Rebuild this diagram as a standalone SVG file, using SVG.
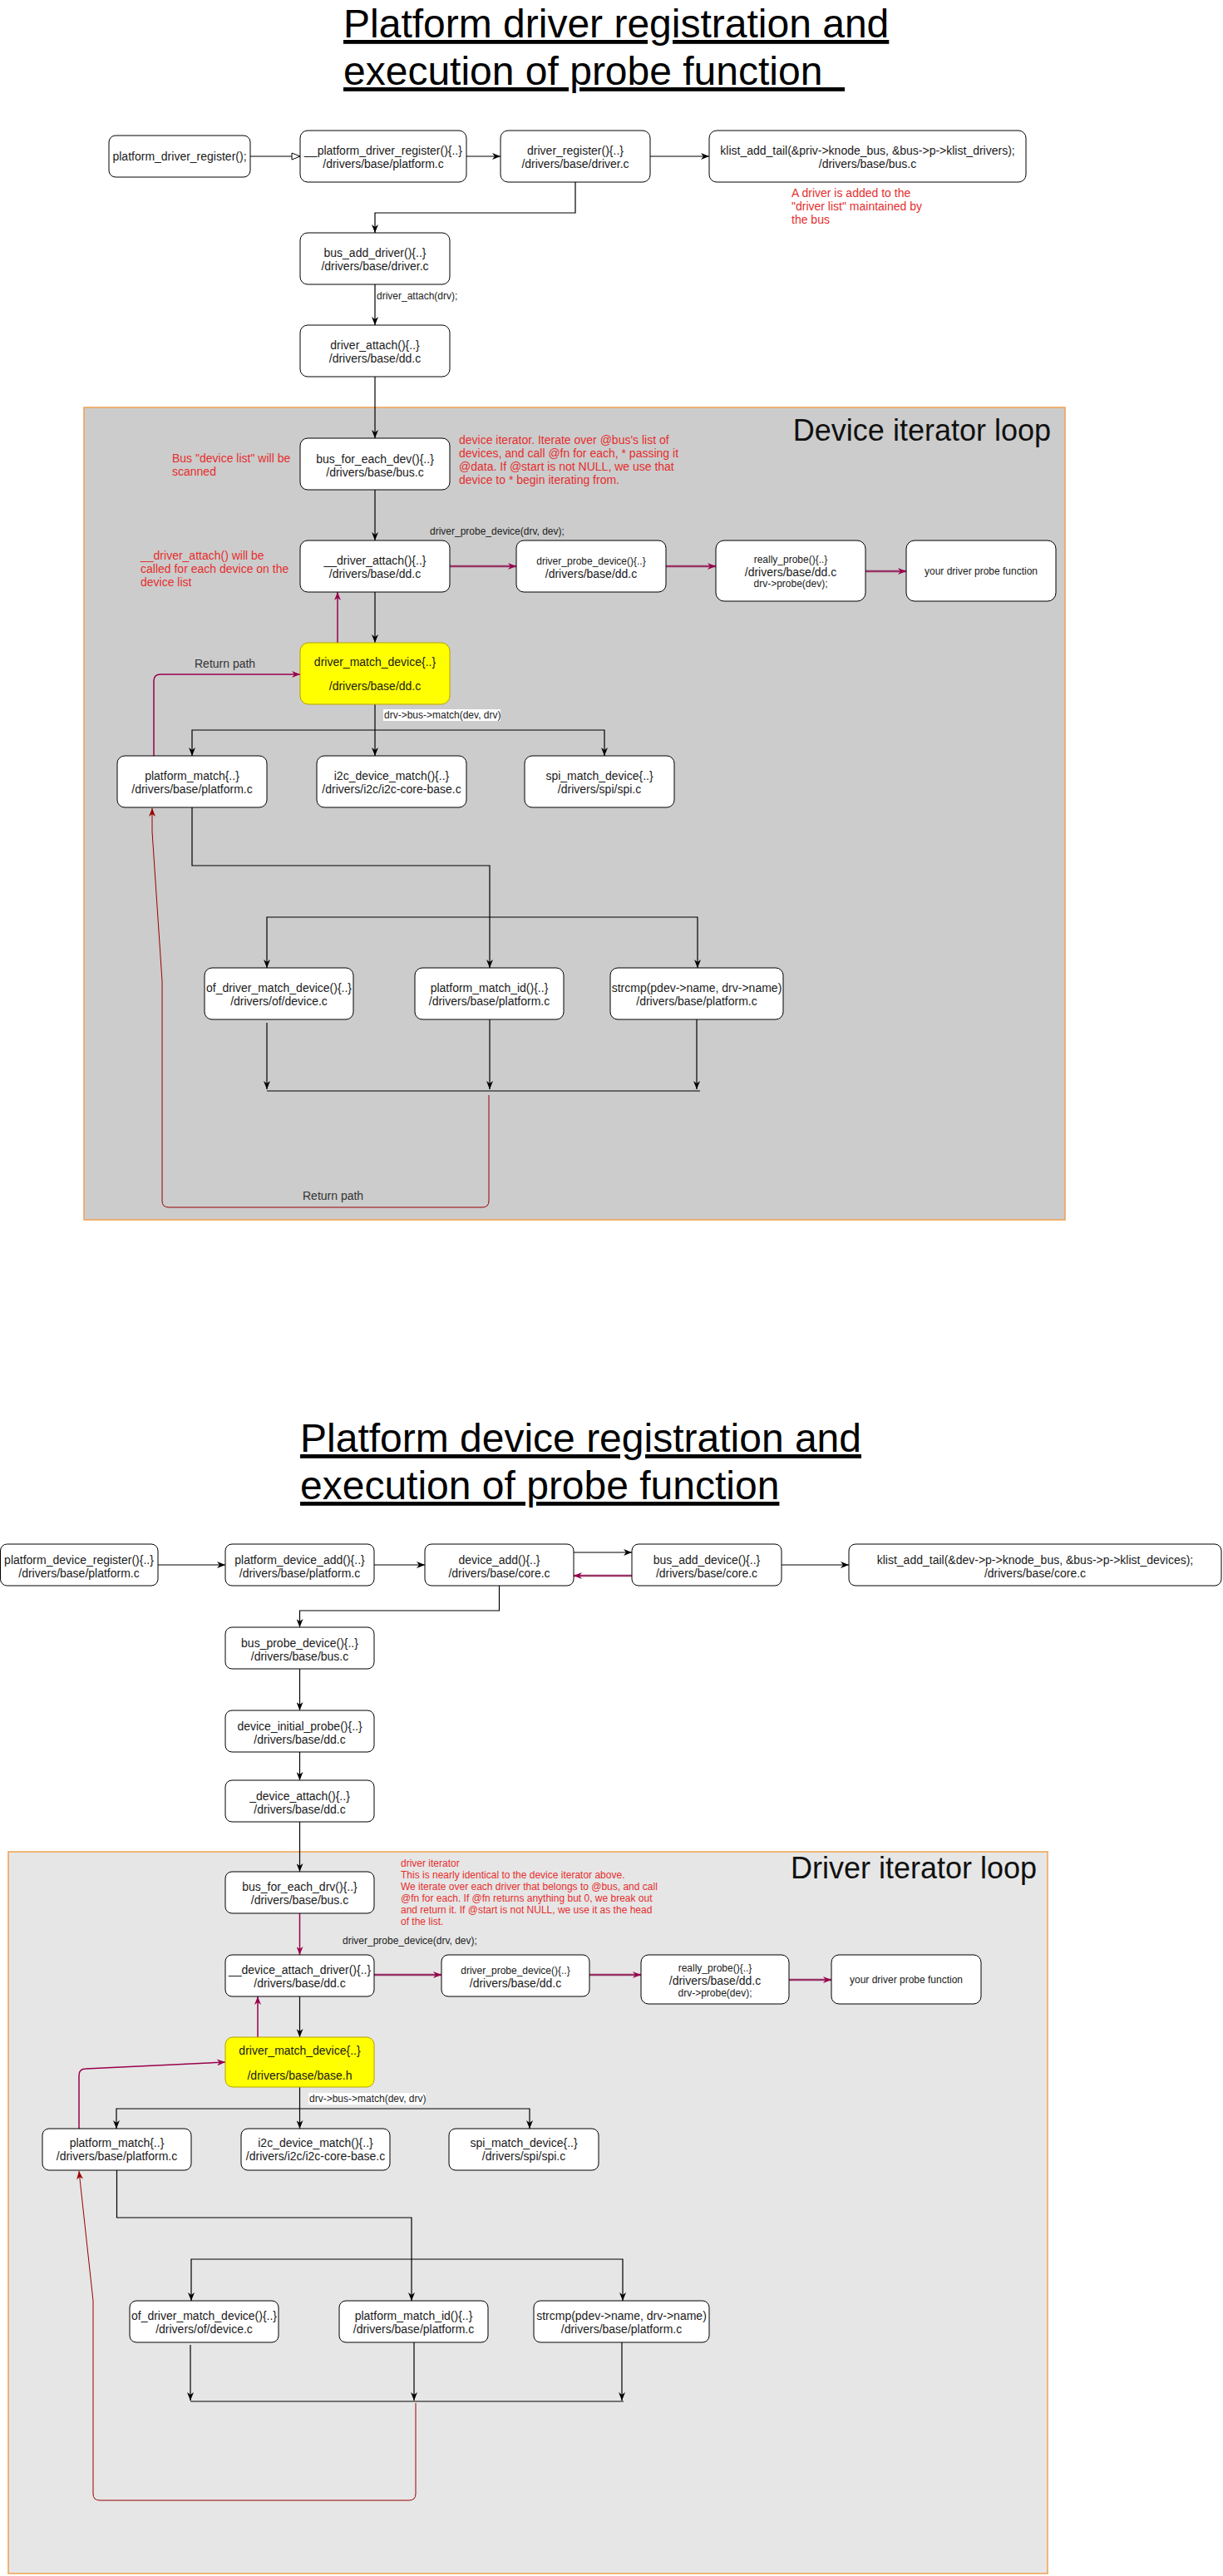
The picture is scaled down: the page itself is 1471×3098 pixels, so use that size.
<svg xmlns="http://www.w3.org/2000/svg" width="1471" height="3098" viewBox="0 0 1471 3098">
<defs>
<marker id="ab" markerUnits="userSpaceOnUse" viewBox="0 0 10 8" refX="10" refY="4" markerWidth="10" markerHeight="8" orient="auto-start-reverse"><path d="M0,0 L10,4 L0,8 L3,4 z" fill="#000"/></marker>
<marker id="am" markerUnits="userSpaceOnUse" viewBox="0 0 10 8" refX="10" refY="4" markerWidth="10" markerHeight="8" orient="auto"><path d="M0,0 L10,4 L0,8 L3,4 z" fill="#99004d"/></marker>
<marker id="ar" markerUnits="userSpaceOnUse" viewBox="0 0 10 8" refX="10" refY="4" markerWidth="10" markerHeight="8" orient="auto"><path d="M0,0 L10,4 L0,8 L3,4 z" fill="#990000"/></marker>
<marker id="ao" markerUnits="userSpaceOnUse" viewBox="0 0 12 10" refX="11" refY="5" markerWidth="12" markerHeight="10" orient="auto"><path d="M1,1 L11,5 L1,9 z" fill="#fff" stroke="#000" stroke-width="1"/></marker>
</defs>
<style>
text{font-family:"Liberation Sans",Arial,sans-serif;}
.box{fill:#fff;stroke:#000;stroke-width:1;}
.yel{fill:#ffff00;stroke:#b3a100;stroke-width:1;}
.t{font-size:14px;fill:#1a1a1a;text-anchor:middle;}
.s{font-size:12px;}
.lbl{font-size:12px;fill:#222;}
.ret{font-size:14px;fill:#333;}
.red{font-size:14px;fill:#e52e2e;}
.red12{font-size:12px;fill:#e52e2e;}
.title{font-size:48px;fill:#000;text-decoration:underline;}
.loop{font-size:36px;fill:#111;text-anchor:end;}
.cont1{fill:#cccccc;stroke:#f0a050;stroke-width:1.5;}
.cont2{fill:#e6e6e6;stroke:#f0a050;stroke-width:1.5;}
.e{fill:none;stroke:#000;stroke-width:1.2;}
.m{fill:none;stroke:#99004d;stroke-width:1.5;}
.mt{fill:none;stroke:#993366;stroke-width:2.5;}
.r{fill:none;stroke:#990000;stroke-width:1;}
.lbg{fill:#fff;}
</style>

<!-- ===== TOP SECTION ===== -->
<g id="title1">
<text class="title" x="413" y="45">Platform driver registration and</text>
<text class="title" x="413" y="102" xml:space="preserve">execution of probe function  </text>
</g>

<g id="container1">
<rect class="cont1" x="101" y="490" width="1180" height="977"/>
<text class="loop" x="1264" y="530">Device iterator loop</text>
</g>

<g id="notes1">
<text class="red" x="952" y="237">A driver is added to the</text>
<text class="red" x="952" y="253">"driver list" maintained by</text>
<text class="red" x="952" y="269">the bus</text>
<text class="red" x="207" y="556">Bus "device list" will be</text>
<text class="red" x="207" y="572">scanned</text>
<text class="red" x="552" y="534">device iterator. Iterate over @bus's list of</text>
<text class="red" x="552" y="550">devices, and call @fn for each, * passing it</text>
<text class="red" x="552" y="566">@data. If @start is not NULL, we use that</text>
<text class="red" x="552" y="582">device to * begin iterating from.</text>
<text class="red" x="169" y="673">__driver_attach() will be</text>
<text class="red" x="169" y="689">called for each device on the</text>
<text class="red" x="169" y="705">device list</text>
</g>

<g id="connectors1">
<path class="e" d="M301,188 L361,188" marker-end="url(#ao)"/>
<path class="e" d="M561,188 L602,188" marker-end="url(#ab)"/>
<path class="e" d="M782,188 L853,188" marker-end="url(#ab)"/>
<path class="e" d="M692,219 L692,256 L451,256 L451,280" marker-end="url(#ab)"/>
<path class="e" d="M451,342 L451,391" marker-end="url(#ab)"/>
<text class="lbl" x="453" y="360">driver_attach(drv);</text>
<path class="e" d="M451,453 L451,527" marker-end="url(#ab)"/>
<path class="e" d="M451,589 L451,650" marker-end="url(#ab)"/>
<text class="lbl" x="517" y="643">driver_probe_device(drv, dev);</text>
<path class="mt" d="M541,681 L621,681" marker-end="url(#am)"/>
<path class="mt" d="M801,681 L861,681" marker-end="url(#am)"/>
<path class="mt" d="M1041,687 L1090,687" marker-end="url(#am)"/>
<path class="e" d="M451,712 L451,773" marker-end="url(#ab)"/>
<path class="m" d="M406,773 L406,712" marker-end="url(#am)"/>
<path class="m" d="M185,909 L185,819 Q185,811 193,811 L361,811" marker-end="url(#am)"/>
<text class="ret" x="234" y="803">Return path</text>
<path class="e" d="M451,847 L451,909" marker-end="url(#ab)"/>
<rect class="lbg" x="461" y="853" width="141" height="14"/>
<text class="lbl" x="462" y="864">drv-&gt;bus-&gt;match(dev, drv)</text>
<path class="e" d="M231,909 L231,878 L727,878 L727,909" marker-start="url(#ab)" marker-end="url(#ab)"/>
<path class="e" d="M231,971 L231,1041 L589,1041 L589,1164" marker-end="url(#ab)"/>
<path class="e" d="M321,1164 L321,1103 L839,1103 L839,1164" marker-start="url(#ab)" marker-end="url(#ab)"/>
<path class="e" d="M321,1230 L321,1310" marker-end="url(#ab)"/>
<path class="e" d="M589,1226 L589,1310" marker-end="url(#ab)"/>
<path class="e" d="M838,1226 L838,1310" marker-end="url(#ab)"/>
<path class="e" d="M321,1312 L842,1312"/>
<path class="r" d="M588,1317 L588,1444 Q588,1452 580,1452 L203,1452 Q195,1452 195,1444 L195,1180 L183,1000 L183,972" marker-end="url(#ar)"/>
<text class="ret" x="364" y="1443">Return path</text>
</g>

<g id="n_platform_driver_register"><rect class="box" x="131" y="163" width="170" height="50" rx="8"/><text class="t" x="216" y="193">platform_driver_register();</text></g>
<g id="n___platform_driver_register"><rect class="box" x="361" y="157" width="200" height="62" rx="9"/><text class="t"><tspan x="461" y="186">__platform_driver_register(){..}</tspan><tspan x="461" y="202">/drivers/base/platform.c</tspan></text></g>
<g id="n_driver_register"><rect class="box" x="602" y="157" width="180" height="62" rx="9"/><text class="t"><tspan x="692" y="186">driver_register(){..}</tspan><tspan x="692" y="202">/drivers/base/driver.c</tspan></text></g>
<g id="n_klist_drivers"><rect class="box" x="853" y="157" width="381" height="62" rx="9"/><text class="t"><tspan x="1043.5" y="186">klist_add_tail(&amp;priv-&gt;knode_bus, &amp;bus-&gt;p-&gt;klist_drivers);</tspan><tspan x="1043.5" y="202">/drivers/base/bus.c</tspan></text></g>
<g id="n_bus_add_driver"><rect class="box" x="361" y="280" width="180" height="62" rx="9"/><text class="t"><tspan x="451" y="309">bus_add_driver(){..}</tspan><tspan x="451" y="325">/drivers/base/driver.c</tspan></text></g>
<g id="n_driver_attach"><rect class="box" x="361" y="391" width="180" height="62" rx="9"/><text class="t"><tspan x="451" y="420">driver_attach(){..}</tspan><tspan x="451" y="436">/drivers/base/dd.c</tspan></text></g>
<g id="n_bus_for_each_dev"><rect class="box" x="361" y="527" width="180" height="62" rx="9"/><text class="t"><tspan x="451" y="557">bus_for_each_dev(){..}</tspan><tspan x="451" y="573">/drivers/base/bus.c</tspan></text></g>
<g id="n___driver_attach"><rect class="box" x="361" y="650" width="180" height="62" rx="9"/><text class="t"><tspan x="451" y="679">__driver_attach(){..}</tspan><tspan x="451" y="695">/drivers/base/dd.c</tspan></text></g>
<g id="n_driver_probe_device1"><rect class="box" x="621" y="650" width="180" height="62" rx="9"/><text class="t"><tspan class="s" x="711" y="679">driver_probe_device(){..}</tspan><tspan x="711" y="695">/drivers/base/dd.c</tspan></text></g>
<g id="n_really_probe1"><rect class="box" x="861" y="650" width="180" height="73" rx="10"/><text class="t"><tspan class="s" x="951" y="677">really_probe(){..}</tspan><tspan x="951" y="693">/drivers/base/dd.c</tspan><tspan class="s" x="951" y="706">drv-&gt;probe(dev);</tspan></text></g>
<g id="n_your_probe1"><rect class="box" x="1090" y="650" width="180" height="73" rx="10"/><text class="t s" x="1180" y="691">your driver probe function</text></g>
<g id="n_driver_match_device1"><rect class="yel" x="361" y="773" width="180" height="74" rx="10"/><text class="t"><tspan x="451" y="801">driver_match_device{..}</tspan><tspan x="451" y="830">/drivers/base/dd.c</tspan></text></g>
<g id="n_platform_match1"><rect class="box" x="141" y="909" width="180" height="62" rx="9"/><text class="t"><tspan x="231" y="938">platform_match{..}</tspan><tspan x="231" y="954">/drivers/base/platform.c</tspan></text></g>
<g id="n_i2c1"><rect class="box" x="381" y="909" width="180" height="62" rx="9"/><text class="t"><tspan x="471" y="938">i2c_device_match(){..}</tspan><tspan x="471" y="954">/drivers/i2c/i2c-core-base.c</tspan></text></g>
<g id="n_spi1"><rect class="box" x="631" y="909" width="180" height="62" rx="9"/><text class="t"><tspan x="721" y="938">spi_match_device{..}</tspan><tspan x="721" y="954">/drivers/spi/spi.c</tspan></text></g>
<g id="n_of_driver1"><rect class="box" x="246" y="1164" width="179" height="62" rx="9"/><text class="t"><tspan x="335.5" y="1193">of_driver_match_device(){..}</tspan><tspan x="335.5" y="1209">/drivers/of/device.c</tspan></text></g>
<g id="n_platform_match_id1"><rect class="box" x="499" y="1164" width="179" height="62" rx="9"/><text class="t"><tspan x="588.5" y="1193">platform_match_id(){..}</tspan><tspan x="588.5" y="1209">/drivers/base/platform.c</tspan></text></g>
<g id="n_strcmp1"><rect class="box" x="734" y="1164" width="208" height="62" rx="9"/><text class="t"><tspan x="838" y="1193">strcmp(pdev-&gt;name, drv-&gt;name)</tspan><tspan x="838" y="1209">/drivers/base/platform.c</tspan></text></g>

<!-- ===== BOTTOM SECTION ===== -->
<g id="title2">
<text class="title" x="361" y="1746">Platform device registration and</text>
<text class="title" x="361" y="1803">execution of probe function</text>
</g>

<g id="container2">
<rect class="cont2" x="10" y="2227" width="1250" height="868"/>
<text class="loop" x="1247" y="2259">Driver iterator loop</text>
</g>

<g id="notes2">
<text class="red12" x="482" y="2245">driver iterator</text>
<text class="red12" x="482" y="2259">This is nearly identical to the device iterator above.</text>
<text class="red12" x="482" y="2273">We iterate over each driver that belongs to @bus, and call</text>
<text class="red12" x="482" y="2287">@fn for each. If @fn returns anything but 0, we break out</text>
<text class="red12" x="482" y="2301">and return it. If @start is not NULL, we use it as the head</text>
<text class="red12" x="482" y="2315">of the list.</text>
</g>

<g id="connectors2">
<path class="e" d="M190,1882 L271,1882" marker-end="url(#ab)"/>
<path class="e" d="M450,1882 L511,1882" marker-end="url(#ab)"/>
<path class="e" d="M690,1867 L760,1867" marker-end="url(#ab)"/>
<path class="mt" d="M760,1895 L690,1895" marker-end="url(#am)"/>
<path class="e" d="M940,1882 L1021,1882" marker-end="url(#ab)"/>
<path class="e" d="M600.5,1907 L600.5,1937 L360.5,1937 L360.5,1957" marker-end="url(#ab)"/>
<path class="e" d="M360.5,2007 L360.5,2057" marker-end="url(#ab)"/>
<path class="e" d="M360.5,2107 L360.5,2141" marker-end="url(#ab)"/>
<path class="e" d="M360.5,2191 L360.5,2251" marker-end="url(#ab)"/>
<path class="m" d="M360.5,2301 L360.5,2351" marker-end="url(#am)"/>
<text class="lbl" x="412" y="2338">driver_probe_device(drv, dev);</text>
<path class="mt" d="M450,2375 L531,2375" marker-end="url(#am)"/>
<path class="mt" d="M709,2375 L771,2375" marker-end="url(#am)"/>
<path class="mt" d="M949,2381 L1000,2381" marker-end="url(#am)"/>
<path class="e" d="M360.5,2401 L360.5,2450" marker-end="url(#ab)"/>
<path class="m" d="M310,2450 L310,2401" marker-end="url(#am)"/>
<path class="m" d="M95,2560 L95,2496 Q95,2488 103,2488 L271,2480" marker-end="url(#am)"/>
<path class="e" d="M360.5,2510 L360.5,2560" marker-end="url(#ab)"/>
<rect class="lbg" x="371" y="2517" width="141" height="14"/>
<text class="lbl" x="372" y="2528">drv-&gt;bus-&gt;match(dev, drv)</text>
<path class="e" d="M140,2560 L140,2536 L637,2536 L637,2560" marker-start="url(#ab)" marker-end="url(#ab)"/>
<path class="e" d="M140.5,2610 L140.5,2667 L495,2667 L495,2767" marker-end="url(#ab)"/>
<path class="e" d="M230,2767 L230,2717 L749,2717 L749,2767" marker-start="url(#ab)" marker-end="url(#ab)"/>
<path class="e" d="M229,2820 L229,2887" marker-end="url(#ab)"/>
<path class="e" d="M498,2817 L498,2887" marker-end="url(#ab)"/>
<path class="e" d="M748,2817 L748,2887" marker-end="url(#ab)"/>
<path class="e" d="M229,2888 L750,2888"/>
<path class="r" d="M500,2890 L500,2999 Q500,3007 492,3007 L120,3007 Q112,3007 112,2999 L112,2767 L95,2611" marker-end="url(#ar)"/>
</g>

<g id="m_platform_device_register"><rect class="box" x="0.5" y="1857" width="189.5" height="50" rx="8"/><text class="t"><tspan x="95" y="1881">platform_device_register(){..}</tspan><tspan x="95" y="1897">/drivers/base/platform.c</tspan></text></g>
<g id="m_platform_device_add"><rect class="box" x="271" y="1857" width="179" height="50" rx="8"/><text class="t"><tspan x="360.5" y="1881">platform_device_add(){..}</tspan><tspan x="360.5" y="1897">/drivers/base/platform.c</tspan></text></g>
<g id="m_device_add"><rect class="box" x="511" y="1857" width="179" height="50" rx="8"/><text class="t"><tspan x="600.5" y="1881">device_add(){..}</tspan><tspan x="600.5" y="1897">/drivers/base/core.c</tspan></text></g>
<g id="m_bus_add_device"><rect class="box" x="760" y="1857" width="180" height="50" rx="8"/><text class="t"><tspan x="850" y="1881">bus_add_device(){..}</tspan><tspan x="850" y="1897">/drivers/base/core.c</tspan></text></g>
<g id="m_klist_devices"><rect class="box" x="1021" y="1857" width="448" height="50" rx="8"/><text class="t"><tspan x="1245" y="1881">klist_add_tail(&amp;dev-&gt;p-&gt;knode_bus, &amp;bus-&gt;p-&gt;klist_devices);</tspan><tspan x="1245" y="1897">/drivers/base/core.c</tspan></text></g>
<g id="m_bus_probe_device"><rect class="box" x="271" y="1957" width="179" height="50" rx="8"/><text class="t"><tspan x="360.5" y="1981">bus_probe_device(){..}</tspan><tspan x="360.5" y="1997">/drivers/base/bus.c</tspan></text></g>
<g id="m_device_initial_probe"><rect class="box" x="271" y="2057" width="179" height="50" rx="8"/><text class="t"><tspan x="360.5" y="2081">device_initial_probe(){..}</tspan><tspan x="360.5" y="2097">/drivers/base/dd.c</tspan></text></g>
<g id="m__device_attach"><rect class="box" x="271" y="2141" width="179" height="50" rx="8"/><text class="t"><tspan x="360.5" y="2165">_device_attach(){..}</tspan><tspan x="360.5" y="2181">/drivers/base/dd.c</tspan></text></g>
<g id="m_bus_for_each_drv"><rect class="box" x="271" y="2251" width="179" height="50" rx="8"/><text class="t"><tspan x="360.5" y="2274">bus_for_each_drv(){..}</tspan><tspan x="360.5" y="2290">/drivers/base/bus.c</tspan></text></g>
<g id="m___device_attach_driver"><rect class="box" x="271" y="2351" width="179" height="50" rx="8"/><text class="t"><tspan x="360.5" y="2374">__device_attach_driver(){..}</tspan><tspan x="360.5" y="2390">/drivers/base/dd.c</tspan></text></g>
<g id="m_driver_probe_device2"><rect class="box" x="531" y="2351" width="178" height="50" rx="8"/><text class="t"><tspan class="s" x="620" y="2374">driver_probe_device(){..}</tspan><tspan x="620" y="2390">/drivers/base/dd.c</tspan></text></g>
<g id="m_really_probe2"><rect class="box" x="771" y="2351" width="178" height="59" rx="9"/><text class="t"><tspan class="s" x="860" y="2371">really_probe(){..}</tspan><tspan x="860" y="2387">/drivers/base/dd.c</tspan><tspan class="s" x="860" y="2401">drv-&gt;probe(dev);</tspan></text></g>
<g id="m_your_probe2"><rect class="box" x="1000" y="2351" width="180" height="59" rx="9"/><text class="t s" x="1090" y="2385">your driver probe function</text></g>
<g id="m_driver_match_device2"><rect class="yel" x="271" y="2450" width="179" height="60" rx="9"/><text class="t"><tspan x="360.5" y="2471">driver_match_device{..}</tspan><tspan x="360.5" y="2501">/drivers/base/base.h</tspan></text></g>
<g id="m_platform_match2"><rect class="box" x="51" y="2560" width="179" height="50" rx="8"/><text class="t"><tspan x="140.5" y="2582">platform_match{..}</tspan><tspan x="140.5" y="2598">/drivers/base/platform.c</tspan></text></g>
<g id="m_i2c2"><rect class="box" x="290" y="2560" width="179" height="50" rx="8"/><text class="t"><tspan x="379.5" y="2582">i2c_device_match(){..}</tspan><tspan x="379.5" y="2598">/drivers/i2c/i2c-core-base.c</tspan></text></g>
<g id="m_spi2"><rect class="box" x="540" y="2560" width="180" height="50" rx="8"/><text class="t"><tspan x="630" y="2582">spi_match_device{..}</tspan><tspan x="630" y="2598">/drivers/spi/spi.c</tspan></text></g>
<g id="m_of_driver2"><rect class="box" x="156" y="2767" width="179" height="50" rx="8"/><text class="t"><tspan x="245.5" y="2790">of_driver_match_device(){..}</tspan><tspan x="245.5" y="2806">/drivers/of/device.c</tspan></text></g>
<g id="m_platform_match_id2"><rect class="box" x="408" y="2767" width="179" height="50" rx="8"/><text class="t"><tspan x="497.5" y="2790">platform_match_id(){..}</tspan><tspan x="497.5" y="2806">/drivers/base/platform.c</tspan></text></g>
<g id="m_strcmp2"><rect class="box" x="642" y="2767" width="211" height="50" rx="8"/><text class="t"><tspan x="747.5" y="2790">strcmp(pdev-&gt;name, drv-&gt;name)</tspan><tspan x="747.5" y="2806">/drivers/base/platform.c</tspan></text></g>
</svg>
